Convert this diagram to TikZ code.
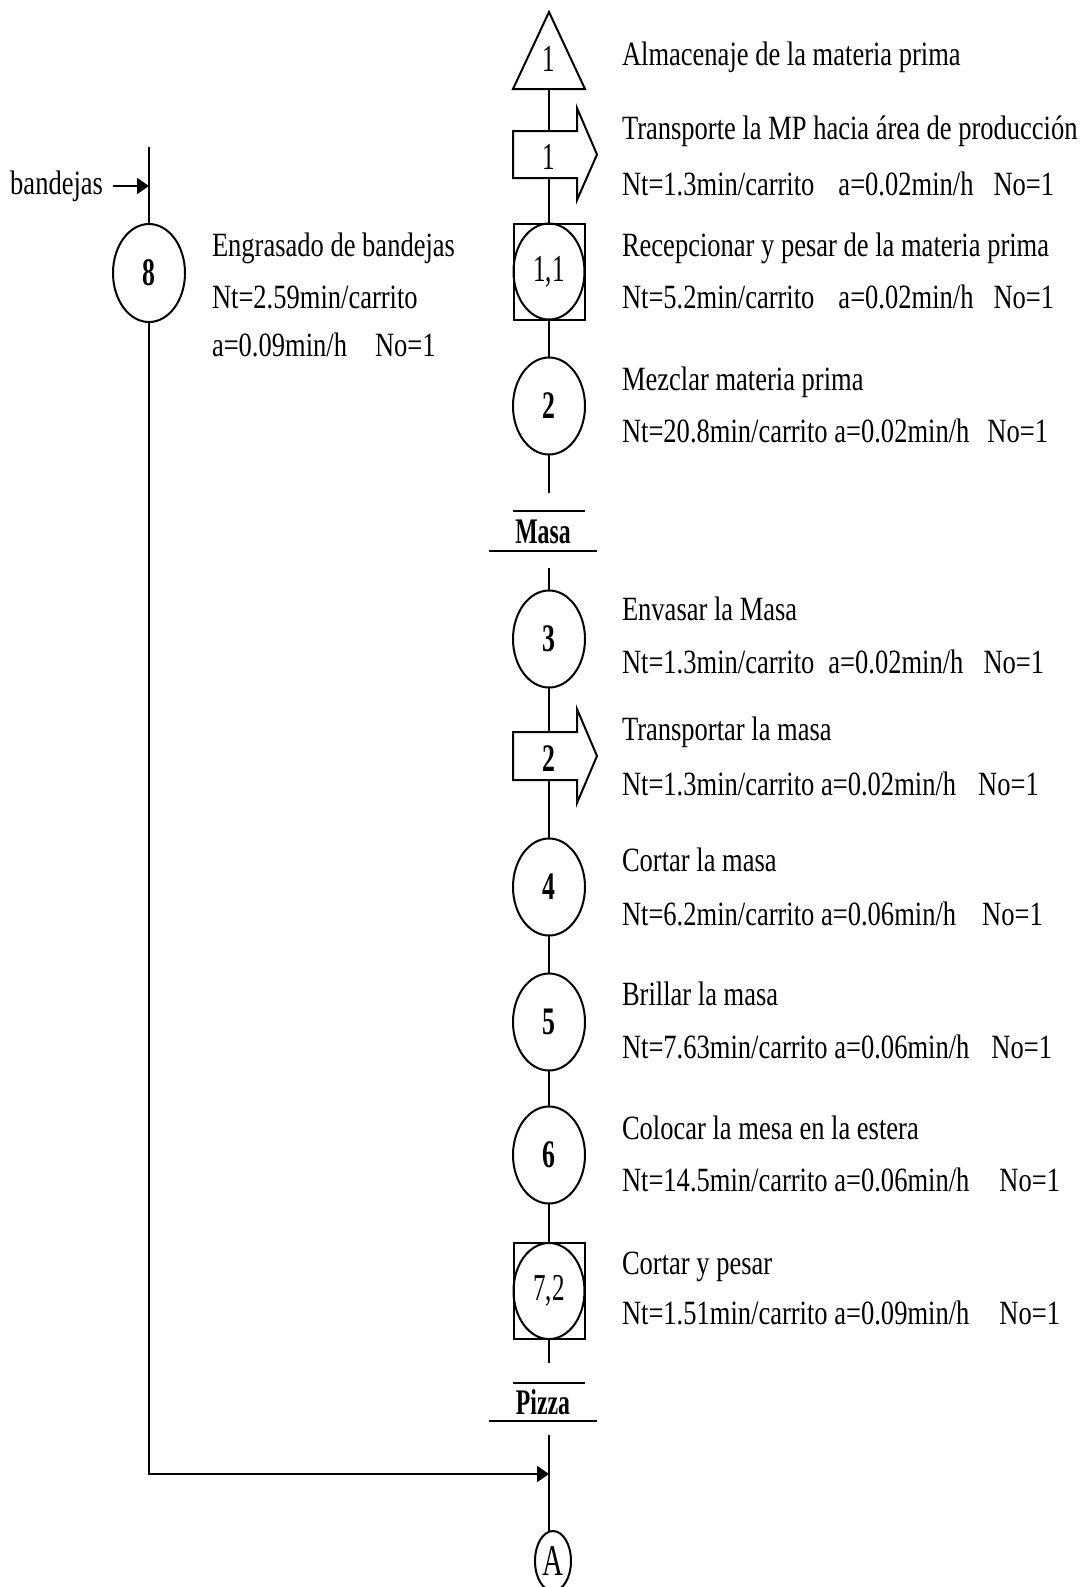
\documentclass[tikz,border=0pt]{standalone}
\usepackage{fontspec}
\setmainfont[FakeStretch=0.78]{Liberation Serif}
\newfontfamily\digitfont[FakeStretch=0.66]{Liberation Serif}
\usetikzlibrary{arrows.meta,shapes.geometric,calc}
\newcommand\hgap[1]{\hspace*{#1}}

\begin{document}
\begin{tikzpicture}[x=0.5pt,y=-0.5pt,line width=1pt,
  every node/.style={inner sep=0pt,outer sep=0pt,font=\fontsize{17pt}{20pt}\selectfont},
  shell/.style={rectangle,draw=none,minimum width=#1},
  numreg/.style={font=\fontsize{19pt}{21pt}\selectfont\digitfont},
  numbold/.style={font=\fontsize{19.5pt}{21pt}\selectfont\digitfont\bfseries},
  opcirc/.style={ellipse,draw,minimum width=36pt,minimum height=48.5pt,numbold},
  inspbox/.style={rectangle,draw,minimum width=35.5pt,minimum height=48pt},
  inspcirc/.style={ellipse,draw,minimum width=35.5pt,minimum height=48pt,numreg},
  desc/.style={anchor=west,text height=12pt,text depth=4pt},
  flow/.style={-{Triangle[length=6pt,width=8pt]}},
  tag/.style={font=\fontsize{18pt}{20pt}\selectfont\digitfont\bfseries}]

% page
\fill[white] (0,0) rectangle (1087,1587);
\useasboundingbox (0,0) rectangle (1087,1587);

% ---------- main column ----------
% storage
\node[shell=36pt,minimum height=38.5pt] (s1) at (549,50.5) {};
\draw (s1.north) -- (s1.south east) -- (s1.south west) -- cycle;
\node[numreg] (s1t) at (549,59) {1};

% transport 1
\node[shell=32pt,minimum height=23.5pt] (t1) at (545,154.5) {};
\draw (t1.north east) -- (t1.north west) -- (t1.south west) -- (t1.south east)
      -- ++(0,22) -- ($(t1.east)+(20,0)$) -- ($(t1.north east)+(0,-23)$) -- cycle;
\node[numreg] (t1t) at (549,157) {1};

% combined operation / inspection 1,1
\node[inspbox] (b1) at (549,271.5) {};
\node[inspcirc] (b1c) at (b1) {1,1};

% operations
\node[opcirc] (c2) at (549,406) {2};

\coordinate (m1) at (549,493);
\draw (513,511) -- (585,511);
\node[tag] (masa) at (543,532) {Masa};
\draw (489,551) -- (597,551);
\coordinate (m2) at (549,568);

\node[opcirc] (c3) at (549,639) {3};

% transport 2
\node[shell=32pt,minimum height=24pt] (t2) at (545,756) {};
\draw (t2.north east) -- (t2.north west) -- (t2.south west) -- (t2.south east)
      -- ++(0,23) -- ($(t2.east)+(20,0)$) -- ($(t2.north east)+(0,-23)$) -- cycle;
\node[numbold] (t2t) at (549,759) {2};

\node[opcirc] (c4) at (549,887) {4};
\node[opcirc] (c5) at (549,1022) {5};
\node[opcirc] (c6) at (549,1155) {6};

\node[inspbox] (b7) at (549,1291) {};
\node[inspcirc] (b7c) at (b7) {7,2};

\coordinate (p1) at (549,1363);
\draw (513,1383) -- (585,1383);
\node[tag] (pizza) at (543,1402) {Pizza};
\draw (489,1421) -- (597,1421);
\coordinate (p2) at (549,1435);

\node[ellipse,draw,minimum width=18pt,minimum height=30pt,
      font=\fontsize{22pt}{24pt}\selectfont\digitfont] (A) at (553,1561) {A};

% connectors of the main column
\draw (s1.south) -- (s1.south |- t1.north);
\draw (s1.south |- t1.south) -- (b1.north);
\draw (b1.south) -- (c2.north);
\draw (c2.south) -- (m1);
\draw (m2) -- (c3.north);
\draw (c3.south) -- (c3.south |- t2.north);
\draw (c3.south |- t2.south) -- (c4.north);
\draw (c4.south) -- (c5.north);
\draw (c5.south) -- (c6.north);
\draw (c6.south) -- (b7.north);
\draw (b7.south) -- (p1);
\draw (p2) -- (p2 |- A.north);

% ---------- tray column ----------
\coordinate (l0) at (149,147);
\node[desc,anchor=east] (band) at (103,186) {bandejas};
\draw[flow] ([xshift=5pt]band.east) -- (band.east -| l0);
\node[opcirc,minimum height=49pt] (c8) at (149,273) {8};
\coordinate (j1) at (549,1474);
\draw (l0) -- (c8.north);
\draw[flow] (c8.south) |- (j1);

% ---------- descriptions ----------
\node[desc] (e1) at (212,248) {Engrasado de bandejas};
\node[desc] (e2) at (212,300) {Nt=2.59min/carrito};
\node[desc] (e3) at (212,348) {a=0.09min/h\hgap{14pt}No=1};

\node[desc] (d1) at (622,57) {Almacenaje de la materia prima};
\node[desc] (d2) at (622,131) {Transporte la MP hacia área de producción};
\node[desc] (d3) at (622,187) {Nt=1.3min/carrito\hgap{12pt}a=0.02min/h\hgap{10pt}No=1};
\node[desc] (d4) at (622,248) {Recepcionar y pesar de la materia prima};
\node[desc] (d5) at (622,300) {Nt=5.2min/carrito\hgap{12pt}a=0.02min/h\hgap{10pt}No=1};
\node[desc] (d6) at (622,382) {Mezclar materia prima};
\node[desc] (d7) at (622,434) {Nt=20.8min/carrito a=0.02min/h\hgap{9pt}No=1};
\node[desc] (d8) at (622,612) {Envasar la Masa};
\node[desc] (d9) at (622,665) {Nt=1.3min/carrito\hgap{7pt}a=0.02min/h\hgap{10pt}No=1};
\node[desc] (d10) at (622,732) {Transportar la masa};
\node[desc] (d11) at (622,787) {Nt=1.3min/carrito a=0.02min/h\hgap{11pt}No=1};
\node[desc] (d12) at (622,863) {Cortar la masa};
\node[desc] (d13) at (622,917) {Nt=6.2min/carrito a=0.06min/h\hgap{13pt}No=1};
\node[desc] (d14) at (622,997) {Brillar la masa};
\node[desc] (d15) at (622,1050) {Nt=7.63min/carrito a=0.06min/h\hgap{11pt}No=1};
\node[desc] (d16) at (622,1131) {Colocar la mesa en la estera};
\node[desc] (d17) at (622,1183) {Nt=14.5min/carrito a=0.06min/h\hgap{15pt}No=1};
\node[desc] (d18) at (622,1266) {Cortar y pesar};
\node[desc] (d19) at (622,1316) {Nt=1.51min/carrito a=0.09min/h\hgap{15pt}No=1};
\end{tikzpicture}
\end{document}
